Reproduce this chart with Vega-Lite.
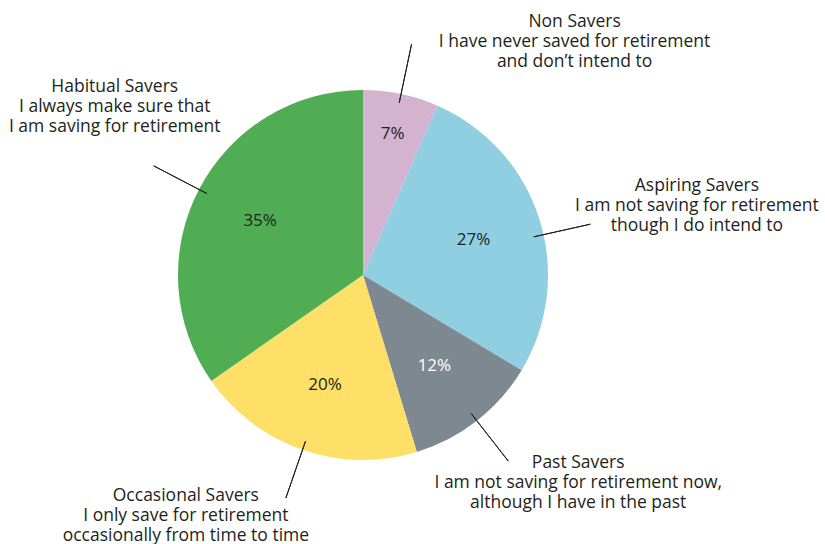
{
  "$schema": "https://vega.github.io/schema/vega-lite/v6.json",
  "width": 726,
  "height": 538,
  "autosize": {"type": "none"},
  "padding": {"left": 0, "top": 6, "right": 99, "bottom": 0},
  "background": "white",
  "config": {"view": {"stroke": null}, "font": "Open Sans", "text": {"font": "Open Sans"}},
  "data": {
    "values": [
      {"order": 1, "cat": "Non Savers", "value": 6.6, "pct": "7%", "label": "Non Savers\nI have never saved for retirement\nand don’t intend to"},
      {"order": 2, "cat": "Aspiring Savers", "value": 27, "pct": "27%", "label": "Aspiring Savers\nI am not saving for retirement\nthough I do intend to"},
      {"order": 3, "cat": "Past Savers", "value": 11.7, "pct": "12%", "label": "Past Savers\nI am not saving for retirement now,\nalthough I have in the past"},
      {"order": 4, "cat": "Occasional Savers", "value": 20, "pct": "20%", "label": "Occasional Savers\nI only save for retirement\noccasionally from time to time"},
      {"order": 5, "cat": "Habitual Savers", "value": 34.7, "pct": "35%", "label": "Habitual Savers\nI always make sure that\nI am saving for retirement"}
    ]
  },
  "encoding": {
    "theta": {"field": "value", "type": "quantitative", "stack": true},
    "order": {"field": "order", "type": "quantitative"},
    "detail": {"field": "cat", "type": "nominal"}
  },
  "layer": [
    {
      "mark": {"type": "arc", "outerRadius": 185, "stroke": null},
      "encoding": {
        "color": {
          "field": "cat",
          "type": "nominal",
          "legend": null,
          "scale": {
            "domain": ["Non Savers", "Aspiring Savers", "Past Savers", "Occasional Savers", "Habitual Savers"],
            "range": ["#d4b3d0", "#8fcfe1", "#7e8891", "#fedf67", "#50ad53"]
          }
        }
      }
    },
    {
      "mark": {"type": "arc", "innerRadius": 176, "outerRadius": 236, "padAngle": 3.1, "fill": "transparent", "stroke": "#231f20", "strokeWidth": 1},
      "encoding": {
        "strokeOpacity": {"condition": {"test": "datum.cat === 'Aspiring Savers'", "value": 0}, "value": 1}
      }
    },
    {
      "mark": {"type": "arc", "innerRadius": 175, "outerRadius": 233, "padAngle": 3.1, "thetaOffset": 0.088, "theta2Offset": 0.088, "fill": "transparent", "stroke": "#231f20", "strokeWidth": 1},
      "encoding": {
        "strokeOpacity": {"condition": {"test": "datum.cat === 'Aspiring Savers'", "value": 1}, "value": 0}
      }
    },
    {
      "mark": {"type": "text", "radius": 116, "fontSize": 17, "baseline": "middle", "align": "center"},
      "encoding": {
        "text": {"condition": {"test": "datum.cat !== 'Non Savers'", "field": "pct"}, "value": ""},
        "color": {"condition": {"test": "datum.cat === 'Past Savers'", "value": "#ffffff"}, "value": "#231f20"}
      }
    },
    {
      "mark": {"type": "text", "radius": 144, "fontSize": 17, "baseline": "middle", "align": "center", "color": "#231f20"},
      "encoding": {
        "text": {"condition": {"test": "datum.cat === 'Non Savers'", "field": "pct"}, "value": ""}
      }
    },
    {
      "mark": {"type": "text", "radius": 236, "fontSize": 17.5, "lineHeight": 20, "lineBreak": "\n", "baseline": "middle", "align": "center", "color": "#231f20", "dx": 163, "dy": -22},
      "encoding": {"text": {"condition": {"test": "datum.cat === 'Non Savers'", "field": "label"}, "value": ""}}
    },
    {
      "mark": {"type": "text", "radius": 236, "fontSize": 17.5, "lineHeight": 20, "lineBreak": "\n", "baseline": "middle", "align": "center", "color": "#231f20", "dx": 109, "dy": -17},
      "encoding": {"text": {"condition": {"test": "datum.cat === 'Aspiring Savers'", "field": "label"}, "value": ""}}
    },
    {
      "mark": {"type": "text", "radius": 236, "fontSize": 17.5, "lineHeight": 20, "lineBreak": "\n", "baseline": "middle", "align": "center", "color": "#231f20", "dx": 70, "dy": 2},
      "encoding": {"text": {"condition": {"test": "datum.cat === 'Past Savers'", "field": "label"}, "value": ""}}
    },
    {
      "mark": {"type": "text", "radius": 236, "fontSize": 17.5, "lineHeight": 20, "lineBreak": "\n", "baseline": "middle", "align": "center", "color": "#231f20", "dx": -100, "dy": -2},
      "encoding": {"text": {"condition": {"test": "datum.cat === 'Occasional Savers'", "field": "label"}, "value": ""}}
    },
    {
      "mark": {"type": "text", "radius": 236, "fontSize": 17.5, "lineHeight": 20, "lineBreak": "\n", "baseline": "middle", "align": "center", "color": "#231f20", "dx": -39, "dy": -79},
      "encoding": {"text": {"condition": {"test": "datum.cat === 'Habitual Savers'", "field": "label"}, "value": ""}}
    }
  ]
}
